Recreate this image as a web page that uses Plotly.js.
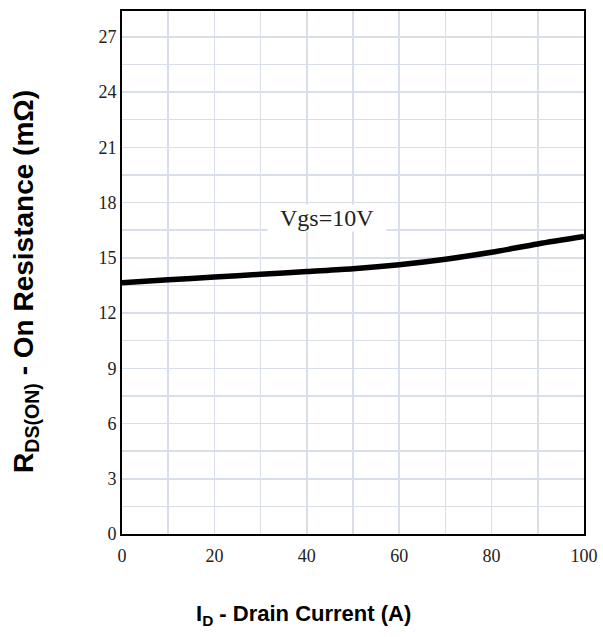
<!DOCTYPE html>
<html>
<head>
<meta charset="utf-8">
<script src="https://cdn.plot.ly/plotly-3.0.1.min.js"></script>
<style>html,body{margin:0;padding:0;background:#fff;}#chart{width:603px;height:637px;}</style>
</head>
<body>
<div id="chart"></div>
<script>
const drainCurrent = [0, 10, 20, 30, 40, 50, 60, 70, 80, 90, 100];
const onResistance = [13.65, 13.8, 13.95, 14.1, 14.25, 14.4, 14.62, 14.92, 15.3, 15.75, 16.15];
const curveLabel = "Vgs=10V";
const xTickVals = [0, 20, 40, 60, 80, 100];
const yTickVals = [0, 3, 6, 9, 12, 15, 18, 21, 24, 27];
const xTitle = '<b>I<sub>D</sub> - Drain Current (A)</b>';
const yTitle = '<b>R<sub>DS(ON)</sub> - On Resistance (mΩ)</b>';

const trace = {
  x: drainCurrent,
  y: onResistance,
  type: 'scatter',
  mode: 'lines',
  line: {color: '#000', width: 5.5, shape: 'spline', smoothing: 0.8},
  hoverinfo: 'skip',
  showlegend: false
};

const gridColor = '#d8deeb';
const tickFont = {family: '"Liberation Serif", "DejaVu Serif", serif', size: 18, color: '#222'};
const sansBold = '"Liberation Sans", Arial, sans-serif';

const layout = {
  width: 603,
  height: 637,
  margin: {l: 122, r: 19, t: 11, b: 103},
  paper_bgcolor: '#fff',
  plot_bgcolor: '#fff',
  showlegend: false,
  xaxis: {
    range: [0, 100],
    tickvals: xTickVals,
    ticktext: xTickVals.map(String),
    showgrid: true,
    gridcolor: gridColor,
    gridwidth: 1.5,
    minor: {dtick: 10, showgrid: true, gridcolor: gridColor, gridwidth: 1.5},
    zeroline: false,
    showline: true,
    linecolor: '#000',
    linewidth: 2,
    mirror: true,
    ticks: '',
    ticklabelstandoff: 4,
    tickfont: tickFont
  },
  yaxis: {
    range: [0, 28.4],
    tickvals: yTickVals,
    ticktext: yTickVals.map(String),
    showgrid: true,
    gridcolor: gridColor,
    gridwidth: 1.5,
    minor: {dtick: 1.5, tick0: 0, showgrid: true, gridcolor: gridColor, gridwidth: 1.5},
    zeroline: false,
    showline: true,
    linecolor: '#000',
    linewidth: 2,
    mirror: true,
    ticks: '',
    tickfont: tickFont
  },
  annotations: [
    {
      x: 44.4, y: 17.17, xref: 'x', yref: 'y',
      text: '&nbsp;&nbsp;' + curveLabel + '&nbsp;&nbsp;',
      showarrow: false, bgcolor: '#fff', borderpad: 0,
      font: {family: '"Liberation Serif", "DejaVu Serif", serif', size: 24, color: '#222'}
    },
    {
      x: 0.3918, y: -0.1549, xref: 'paper', yref: 'paper',
      xanchor: 'center', yanchor: 'middle',
      text: xTitle, showarrow: false,
      font: {family: sansBold, size: 22, color: '#000'}
    },
    {
      x: -0.21, y: 0.4837, xref: 'paper', yref: 'paper',
      xanchor: 'center', yanchor: 'middle', textangle: -90,
      text: yTitle, showarrow: false,
      font: {family: sansBold, size: 28, color: '#000'}
    }
  ]
};

Plotly.newPlot('chart', [trace], layout, {staticPlot: true, displayModeBar: false});
</script>
</body>
</html>
